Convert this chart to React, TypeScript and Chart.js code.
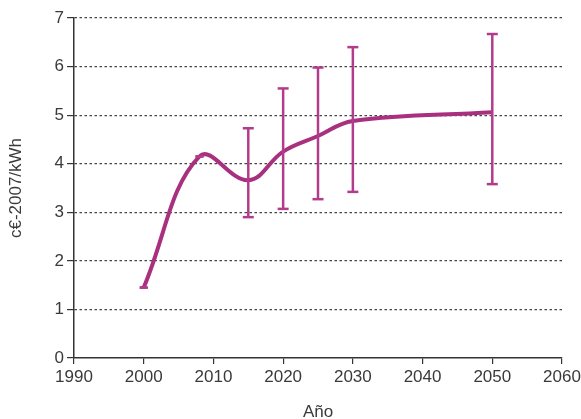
import React, { useEffect, useRef } from "react";
import { Chart, registerables } from "chart.js";
Chart.register(...registerables);

const years = [2000, 2008, 2015, 2020, 2025, 2030, 2050];
const costs = [1.45, 4.15, 3.66, 4.25, 4.57, 4.88, 5.06];
const errYears = [2000, 2008, 2015, 2020, 2025, 2030, 2050];
const errLow = [1.45, 4.15, 2.9, 3.07, 3.27, 3.42, 3.58];
const errHigh = [1.45, 4.15, 4.73, 5.55, 5.98, 6.4, 6.67];
const xTitle = "Año";
const yTitle = "c€-2007/kWh";

const LINE = "#A8307F";
const ERR = "#B23C8C";
const FONT = "'Liberation Sans', Arial, sans-serif";
const TXT = "#3a3a3a";

export default function App() {
  const ref = useRef<HTMLCanvasElement>(null);
  useEffect(() => {
    document.body.style.margin = "0";
    const errSets = errYears.map((x, i) => ({
      type: "line" as const,
      data: [
        { x, y: errLow[i] },
        { x, y: errHigh[i] },
      ],
      borderColor: ERR,
      borderWidth: 2.5,
      pointStyle: "line" as const,
      pointRadius: errLow[i] === errHigh[i] ? 4 : 5.5,
      pointBorderWidth: 2.5,
      pointBorderColor: ERR,
      pointBackgroundColor: ERR,
      tension: 0,
    }));
    const chart = new Chart(ref.current!, {
      type: "line",
      data: {
        datasets: [
          ...errSets,
          {
            data: years.map((x, i) => ({ x, y: costs[i] })),
            borderColor: LINE,
            borderWidth: 4,
            pointRadius: 0,
            tension: 0.4,
            cubicInterpolationMode: "default",
          },
        ],
      },
      options: {
        animation: false,
        responsive: false,
        events: [],
        layout: { padding: { top: 18, right: 0, left: 6, bottom: 0 } },
        plugins: { legend: { display: false }, tooltip: { enabled: false } },
        scales: {
          x: {
            type: "linear",
            min: 1990,
            max: 2060,
            afterFit: (s: any) => {
              s.height = 61;
              s.paddingRight = 19;
            },
            ticks: {
              stepSize: 10,
              color: TXT,
              font: { family: FONT, size: 17 },
              padding: 3,
              callback: (v: any) => String(v),
            },
            grid: {
              drawOnChartArea: false,
              drawTicks: true,
              tickLength: 6,
              color: "#333",
              lineWidth: 1.2,
            },
            border: { display: true, color: "#333", width: 1.5 },
            title: {
              display: true,
              text: xTitle,
              color: TXT,
              font: { family: FONT, size: 17, lineHeight: 0.8 },
              padding: { top: 12, bottom: 0 },
            },
          },
          y: {
            min: 0,
            max: 7,
            afterFit: (s: any) => {
              s.width = 68;
            },
            ticks: {
              stepSize: 1,
              color: TXT,
              font: { family: FONT, size: 17 },
              padding: 3,
            },
            grid: {
              color: (c: any) => (c.tick && c.tick.value === 0 ? "rgba(0,0,0,0)" : "#444"),
              lineWidth: 1.2,
              drawTicks: true,
              tickLength: 7,
              tickColor: "#333",
              tickBorderDash: [],
              borderDash: [2.5, 2.5],
            } as any,
            border: { display: true, color: "#333", width: 1.5, dash: [2.5, 2.5] } as any,
            title: {
              display: true,
              text: yTitle,
              color: TXT,
              font: { family: FONT, size: 17 },
              padding: { top: 0, bottom: 8 },
            },
          },
        },
      },
    });
    return () => chart.destroy();
  }, []);
  return <canvas ref={ref} width={581} height={419} style={{ display: "block" }} />;
}
